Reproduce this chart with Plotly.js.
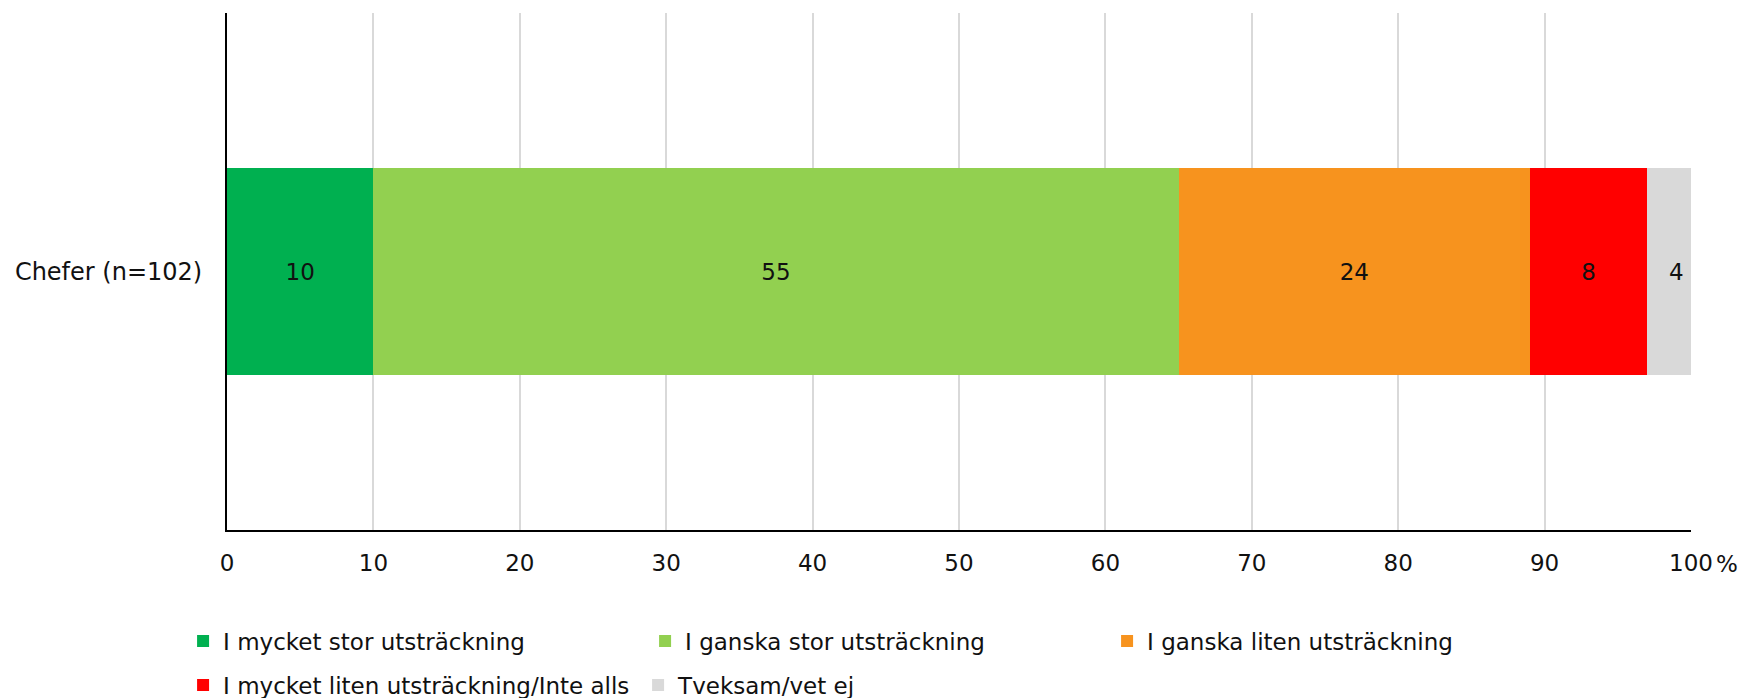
<!DOCTYPE html>
<html>
<head>
<meta charset="utf-8">
<script src="https://cdn.plot.ly/plotly-3.0.1.min.js"></script>
<style>html,body{margin:0;padding:0;background:#fff;}#chart{width:1750px;height:698px;}</style>
</head>
<body>
<div id="chart"></div>
<script>
var categories = ["Chefer (n=102)"];
var seriesNames = [
  "I mycket stor utsträckning",
  "I ganska stor utsträckning",
  "I ganska liten utsträckning",
  "I mycket liten utsträckning/Inte alls",
  "Tveksam/vet ej"
];
var seriesValues = [[10], [55], [24], [8], [4]];
var seriesColors = ["#00B050", "#92D050", "#F7931E", "#FF0000", "#D9D9D9"];
var legendIds = ["legend", "legend", "legend", "legend2", "legend2"];
var xTickVals = [0, 10, 20, 30, 40, 50, 60, 70, 80, 90, 100];
var xTickText = ["0", "10", "20", "30", "40", "50", "60", "70", "80", "90", "100"];
var unitLabel = "%";

var FONT = "DejaVu Sans, Verdana, sans-serif";

var traces = seriesNames.map(function (name, i) {
  return {
    type: "bar",
    orientation: "h",
    name: name,
    y: categories,
    x: seriesValues[i],
    text: seriesValues[i].map(String),
    textposition: "inside",
    insidetextanchor: "middle",
    textangle: 0,
    constraintext: "none",
    textfont: {family: FONT, size: 23, color: "#111111"},
    marker: {color: seriesColors[i], line: {width: 0}},
    width: 0.4,
    legend: legendIds[i],
    hoverinfo: "skip"
  };
});

var layout = {
  width: 1750,
  height: 698,
  barmode: "stack",
  paper_bgcolor: "#ffffff",
  plot_bgcolor: "#ffffff",
  font: {family: FONT, size: 23, color: "#111111"},
  margin: {l: 226.6, r: 59.1, t: 13, b: 168, pad: 0, autoexpand: false},
  showlegend: true,
  xaxis: {
    range: [0, 100],
    tickmode: "array",
    tickvals: xTickVals,
    ticktext: xTickText,
    showgrid: true,
    gridcolor: "#D9D9D9",
    gridwidth: 2,
    zeroline: false,
    showline: true,
    linecolor: "#000000",
    linewidth: 2,
    ticks: "",
    ticklabelstandoff: 11,
    tickfont: {family: FONT, size: 23, color: "#111111"},
    fixedrange: true
  },
  yaxis: {
    range: [-0.5, 0.5],
    type: "category",
    showgrid: false,
    zeroline: false,
    showline: true,
    linecolor: "#000000",
    linewidth: 2,
    ticks: "",
    ticklabelstandoff: 18,
    tickfont: {family: FONT, size: 24, color: "#111111"},
    fixedrange: true
  },
  legend: {
    orientation: "h",
    xref: "paper", yref: "paper",
    x: -0.030, y: -0.2147,
    xanchor: "left", yanchor: "middle",
    entrywidth: 417, entrywidthmode: "pixels",
    font: {family: FONT, size: 23, color: "#111111"},
    bgcolor: "rgba(0,0,0,0)",
    borderwidth: 0,
    traceorder: "normal"
  },
  legend2: {
    orientation: "h",
    xref: "paper", yref: "paper",
    x: -0.030, y: -0.2998,
    xanchor: "left", yanchor: "middle",
    entrywidth: 410, entrywidthmode: "pixels",
    font: {family: FONT, size: 23, color: "#111111"},
    bgcolor: "rgba(0,0,0,0)",
    borderwidth: 0,
    traceorder: "normal"
  },
  annotations: [{
    xref: "x", yref: "paper",
    x: 100, y: 0,
    yshift: -34,
    xshift: 23,
    xanchor: "left", yanchor: "middle",
    text: unitLabel,
    showarrow: false,
    font: {family: FONT, size: 23, color: "#111111"}
  }]
};

Plotly.newPlot("chart", traces, layout, {staticPlot: true, displayModeBar: false});
</script>
</body>
</html>
